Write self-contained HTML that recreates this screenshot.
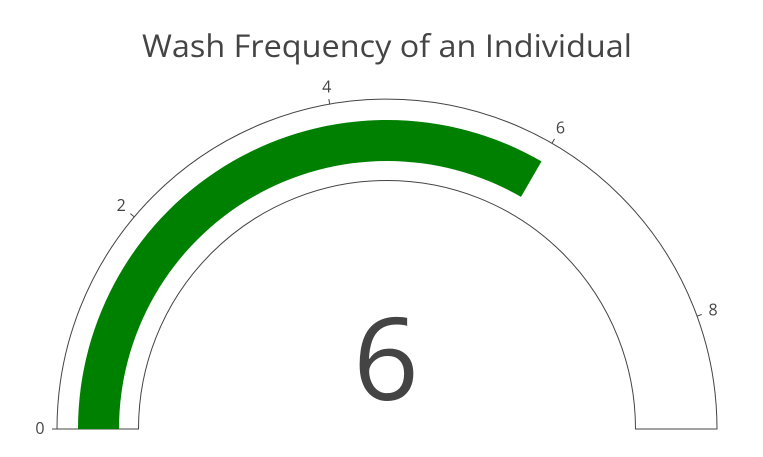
<!DOCTYPE html>
<html><head><meta charset="utf-8">
<style>
html,body{margin:0;padding:0;background:#fff;}
svg text{font-family:"Open Sans","Liberation Sans",sans-serif;}
</style></head>
<body>
<svg id="chart" width="763" height="452" viewBox="0 0 763 452" xmlns="http://www.w3.org/2000/svg">
<text x="387" y="57" text-anchor="middle" font-size="31" textLength="490" lengthAdjust="spacingAndGlyphs" fill="#444">Wash Frequency of an Individual</text>
<g id="g"></g>
</svg>
<script>
const gaugeValue = [6];
const axisRange = [0, 9];
const tickValues = [0, 2, 4, 6, 8];
const tickLabels = ["0", "2", "4", "6", "8"];

const cx = 387, cy = 429, rOut = 330, rIn = 248.5, barOut = 309, barIn = 268;
const NS = "http://www.w3.org/2000/svg";
const g = document.getElementById('g');
function ang(v){ return Math.PI * (1 - (v - axisRange[0]) / (axisRange[1] - axisRange[0])); }
function pt(r, a){ return [cx + r*Math.cos(a), cy - r*Math.sin(a)]; }
function band(r1, r2, v0, v1){
  const a0 = ang(v0), a1 = ang(v1);
  const p1 = pt(r2, a0), p2 = pt(r2, a1), p3 = pt(r1, a1), p4 = pt(r1, a0);
  return `M${p1} A${r2},${r2} 0 0 1 ${p2} L${p3} A${r1},${r1} 0 0 0 ${p4} Z`;
}
function mk(tag, attrs){ const e = document.createElementNS(NS, tag); for (const k in attrs) e.setAttribute(k, attrs[k]); g.appendChild(e); return e; }

const bg = mk('path', {d: band(rIn, rOut, axisRange[0], axisRange[1]), fill: '#fff', stroke: '#444', 'stroke-width': 1});



const bar = mk('path', {d: band(barIn, barOut, axisRange[0], gaugeValue[0]), fill: 'green'});



tickValues.forEach((v, i) => {
  const a = ang(v);
  const p1 = pt(rOut, a), p2 = pt(rOut + 5, a), pl = pt(rOut + 17, a);
  const t = mk('line', {x1: p1[0], y1: p1[1], x2: p2[0], y2: p2[1], stroke: '#444', 'stroke-width': 1});
  
  
  const lbl = mk('text', {x: pl[0], y: pl[1] + 5, 'text-anchor': 'middle', 'font-size': 16, fill: '#444'});
  lbl.textContent = tickLabels[i];
  
  
});

const num = mk('text', {x: cx - 1, y: 400, 'text-anchor': 'middle', 'font-size': 115, fill: '#444'});
num.textContent = String(gaugeValue[0]);


</script>
</body></html>
